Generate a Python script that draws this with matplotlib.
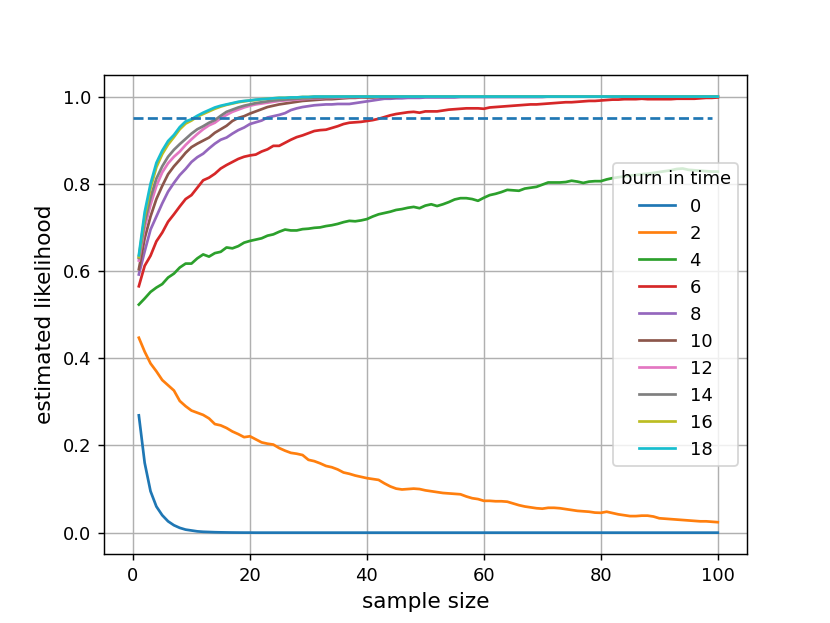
import matplotlib
matplotlib.use('Agg')
import matplotlib.pyplot as plt

sample_sizes = list(range(1, 101))
burn_in_times = [0, 2, 4, 6, 8, 10, 12, 14, 16, 18]
threshold = 0.95
threshold_span = (0, 99)

likelihood_b0 = [
    0.269, 0.160, 0.095, 0.060, 0.040, 0.026, 0.017, 0.011, 0.007, 0.005,
    0.003, 0.002, 0.0015, 0.001, 0.0007, 0.0005, 0.0003, 0.0002, 0.0001, 0.0001,
    0.0, 0.0, 0.0, 0.0, 0.0, 0.0, 0.0, 0.0, 0.0, 0.0,
    0.0, 0.0, 0.0, 0.0, 0.0, 0.0, 0.0, 0.0, 0.0, 0.0,
    0.0, 0.0, 0.0, 0.0, 0.0, 0.0, 0.0, 0.0, 0.0, 0.0,
    0.0, 0.0, 0.0, 0.0, 0.0, 0.0, 0.0, 0.0, 0.0, 0.0,
    0.0, 0.0, 0.0, 0.0, 0.0, 0.0, 0.0, 0.0, 0.0, 0.0,
    0.0, 0.0, 0.0, 0.0, 0.0, 0.0, 0.0, 0.0, 0.0, 0.0,
    0.0, 0.0, 0.0, 0.0, 0.0, 0.0, 0.0, 0.0, 0.0, 0.0,
    0.0, 0.0, 0.0, 0.0, 0.0, 0.0, 0.0, 0.0, 0.0, 0.0,
]
likelihood_b2 = [
    0.447, 0.415, 0.388, 0.370, 0.350, 0.338, 0.326, 0.302, 0.290, 0.280,
    0.275, 0.270, 0.262, 0.249, 0.246, 0.240, 0.232, 0.226, 0.219, 0.221,
    0.214, 0.207, 0.204, 0.202, 0.194, 0.188, 0.183, 0.181, 0.178, 0.167,
    0.164, 0.159, 0.153, 0.150, 0.145, 0.138, 0.135, 0.131, 0.128, 0.125,
    0.123, 0.121, 0.113, 0.106, 0.101, 0.099, 0.100, 0.101, 0.100, 0.097,
    0.095, 0.093, 0.091, 0.090, 0.089, 0.088, 0.083, 0.079, 0.077, 0.073,
    0.073, 0.072, 0.072, 0.071, 0.067, 0.063, 0.060, 0.058, 0.056, 0.055,
    0.057, 0.057, 0.056, 0.054, 0.052, 0.050, 0.049, 0.048, 0.046, 0.0455,
    0.048, 0.045, 0.042, 0.040, 0.038, 0.038, 0.039, 0.039, 0.037, 0.033,
    0.032, 0.031, 0.030, 0.029, 0.028, 0.027, 0.026, 0.026, 0.025, 0.024,
]
likelihood_b4 = [
    0.523, 0.537, 0.552, 0.562, 0.570, 0.585, 0.594, 0.608, 0.617, 0.617,
    0.629, 0.638, 0.633, 0.641, 0.644, 0.654, 0.652, 0.657, 0.665, 0.669,
    0.672, 0.675, 0.681, 0.684, 0.690, 0.695, 0.693, 0.693, 0.696, 0.697,
    0.699, 0.700, 0.703, 0.705, 0.708, 0.712, 0.715, 0.714, 0.716, 0.719,
    0.725, 0.730, 0.733, 0.736, 0.740, 0.742, 0.745, 0.747, 0.744, 0.750,
    0.753, 0.749, 0.753, 0.758, 0.764, 0.767, 0.767, 0.765, 0.761, 0.768,
    0.774, 0.777, 0.781, 0.786, 0.785, 0.784, 0.789, 0.791, 0.793, 0.798,
    0.803, 0.803, 0.803, 0.804, 0.807, 0.805, 0.802, 0.805, 0.806, 0.806,
    0.810, 0.813, 0.815, 0.817, 0.819, 0.820, 0.822, 0.823, 0.825, 0.827,
    0.829, 0.831, 0.834, 0.835, 0.832, 0.831, 0.830, 0.829, 0.828, 0.828,
]
likelihood_b6 = [
    0.565, 0.612, 0.635, 0.668, 0.688, 0.713, 0.730, 0.748, 0.765, 0.774,
    0.791, 0.808, 0.814, 0.823, 0.835, 0.843, 0.850, 0.857, 0.862, 0.865,
    0.867, 0.874, 0.879, 0.887, 0.887, 0.894, 0.901, 0.907, 0.911, 0.916,
    0.921, 0.923, 0.924, 0.928, 0.932, 0.937, 0.940, 0.941, 0.942, 0.944,
    0.946, 0.949, 0.953, 0.957, 0.960, 0.962, 0.964, 0.965, 0.963, 0.966,
    0.966, 0.966, 0.968, 0.970, 0.971, 0.972, 0.973, 0.973, 0.973, 0.972,
    0.975, 0.976, 0.977, 0.978, 0.979, 0.980, 0.981, 0.982, 0.982, 0.983,
    0.984, 0.985, 0.986, 0.987, 0.987, 0.988, 0.989, 0.990, 0.990, 0.991,
    0.992, 0.993, 0.993, 0.994, 0.994, 0.994, 0.995, 0.994, 0.994, 0.994,
    0.994, 0.994, 0.995, 0.995, 0.995, 0.995, 0.996, 0.997, 0.997, 0.998,
]
likelihood_b8 = [
    0.592, 0.645, 0.695, 0.725, 0.755, 0.782, 0.802, 0.820, 0.834, 0.850,
    0.861, 0.869, 0.881, 0.892, 0.901, 0.906, 0.915, 0.923, 0.929, 0.937,
    0.941, 0.945, 0.952, 0.955, 0.958, 0.962, 0.969, 0.973, 0.976, 0.978,
    0.980, 0.981, 0.982, 0.982, 0.983, 0.983, 0.983, 0.985, 0.987, 0.989,
    0.991, 0.993, 0.995, 0.995, 0.996, 0.996, 0.997, 0.997, 0.997, 0.998,
    0.998, 0.998, 0.998, 0.998, 0.998, 0.999, 0.999, 0.999, 0.999, 0.999,
    0.999, 0.999, 0.999, 0.999, 0.999, 0.999, 0.999, 0.999, 0.999, 0.999,
    1.0, 1.0, 1.0, 1.0, 1.0, 1.0, 1.0, 1.0, 1.0, 1.0,
    1.0, 1.0, 1.0, 1.0, 1.0, 1.0, 1.0, 1.0, 1.0, 1.0,
    1.0, 1.0, 1.0, 1.0, 1.0, 1.0, 1.0, 1.0, 1.0, 1.0,
]
likelihood_b10 = [
    0.604, 0.675, 0.725, 0.765, 0.795, 0.822, 0.840, 0.855, 0.871, 0.884,
    0.892, 0.899, 0.906, 0.917, 0.925, 0.933, 0.944, 0.951, 0.955, 0.961,
    0.966, 0.971, 0.976, 0.979, 0.982, 0.984, 0.986, 0.988, 0.990, 0.991,
    0.992, 0.993, 0.994, 0.994, 0.995, 0.996, 0.997, 0.997, 0.998, 0.998,
    0.998, 0.999, 0.999, 0.999, 0.999, 1.0, 1.0, 1.0, 1.0, 1.0,
    1.0, 1.0, 1.0, 1.0, 1.0, 1.0, 1.0, 1.0, 1.0, 1.0,
    1.0, 1.0, 1.0, 1.0, 1.0, 1.0, 1.0, 1.0, 1.0, 1.0,
    1.0, 1.0, 1.0, 1.0, 1.0, 1.0, 1.0, 1.0, 1.0, 1.0,
    1.0, 1.0, 1.0, 1.0, 1.0, 1.0, 1.0, 1.0, 1.0, 1.0,
    1.0, 1.0, 1.0, 1.0, 1.0, 1.0, 1.0, 1.0, 1.0, 1.0,
]
likelihood_b12 = [
    0.624, 0.700, 0.752, 0.795, 0.826, 0.847, 0.862, 0.874, 0.889, 0.902,
    0.914, 0.925, 0.934, 0.940, 0.950, 0.958, 0.965, 0.970, 0.975, 0.979,
    0.982, 0.984, 0.986, 0.988, 0.990, 0.991, 0.992, 0.993, 0.994, 0.995,
    0.996, 0.996, 0.997, 0.997, 0.998, 0.998, 0.999, 0.999, 0.999, 1.0,
    1.0, 1.0, 1.0, 1.0, 1.0, 1.0, 1.0, 1.0, 1.0, 1.0,
    1.0, 1.0, 1.0, 1.0, 1.0, 1.0, 1.0, 1.0, 1.0, 1.0,
    1.0, 1.0, 1.0, 1.0, 1.0, 1.0, 1.0, 1.0, 1.0, 1.0,
    1.0, 1.0, 1.0, 1.0, 1.0, 1.0, 1.0, 1.0, 1.0, 1.0,
    1.0, 1.0, 1.0, 1.0, 1.0, 1.0, 1.0, 1.0, 1.0, 1.0,
    1.0, 1.0, 1.0, 1.0, 1.0, 1.0, 1.0, 1.0, 1.0, 1.0,
]
likelihood_b14 = [
    0.630, 0.712, 0.768, 0.812, 0.840, 0.862, 0.878, 0.891, 0.903, 0.915,
    0.925, 0.932, 0.940, 0.946, 0.956, 0.965, 0.970, 0.975, 0.979, 0.982,
    0.985, 0.987, 0.989, 0.991, 0.992, 0.993, 0.994, 0.995, 0.996, 0.996,
    0.997, 0.997, 0.998, 0.998, 0.999, 0.999, 0.999, 1.0, 1.0, 1.0,
    1.0, 1.0, 1.0, 1.0, 1.0, 1.0, 1.0, 1.0, 1.0, 1.0,
    1.0, 1.0, 1.0, 1.0, 1.0, 1.0, 1.0, 1.0, 1.0, 1.0,
    1.0, 1.0, 1.0, 1.0, 1.0, 1.0, 1.0, 1.0, 1.0, 1.0,
    1.0, 1.0, 1.0, 1.0, 1.0, 1.0, 1.0, 1.0, 1.0, 1.0,
    1.0, 1.0, 1.0, 1.0, 1.0, 1.0, 1.0, 1.0, 1.0, 1.0,
    1.0, 1.0, 1.0, 1.0, 1.0, 1.0, 1.0, 1.0, 1.0, 1.0,
]
likelihood_b16 = [
    0.632, 0.725, 0.790, 0.838, 0.868, 0.890, 0.907, 0.925, 0.938, 0.945,
    0.954, 0.960, 0.966, 0.972, 0.977, 0.981, 0.984, 0.987, 0.989, 0.991,
    0.992, 0.994, 0.995, 0.996, 0.997, 0.997, 0.998, 0.998, 0.999, 0.999,
    1.0, 1.0, 1.0, 1.0, 1.0, 1.0, 1.0, 1.0, 1.0, 1.0,
    1.0, 1.0, 1.0, 1.0, 1.0, 1.0, 1.0, 1.0, 1.0, 1.0,
    1.0, 1.0, 1.0, 1.0, 1.0, 1.0, 1.0, 1.0, 1.0, 1.0,
    1.0, 1.0, 1.0, 1.0, 1.0, 1.0, 1.0, 1.0, 1.0, 1.0,
    1.0, 1.0, 1.0, 1.0, 1.0, 1.0, 1.0, 1.0, 1.0, 1.0,
    1.0, 1.0, 1.0, 1.0, 1.0, 1.0, 1.0, 1.0, 1.0, 1.0,
    1.0, 1.0, 1.0, 1.0, 1.0, 1.0, 1.0, 1.0, 1.0, 1.0,
]
likelihood_b18 = [
    0.636, 0.735, 0.800, 0.848, 0.876, 0.898, 0.912, 0.930, 0.943, 0.948,
    0.956, 0.963, 0.969, 0.975, 0.979, 0.982, 0.985, 0.988, 0.990, 0.991,
    0.993, 0.994, 0.995, 0.996, 0.997, 0.997, 0.998, 0.998, 0.999, 0.999,
    1.0, 1.0, 1.0, 1.0, 1.0, 1.0, 1.0, 1.0, 1.0, 1.0,
    1.0, 1.0, 1.0, 1.0, 1.0, 1.0, 1.0, 1.0, 1.0, 1.0,
    1.0, 1.0, 1.0, 1.0, 1.0, 1.0, 1.0, 1.0, 1.0, 1.0,
    1.0, 1.0, 1.0, 1.0, 1.0, 1.0, 1.0, 1.0, 1.0, 1.0,
    1.0, 1.0, 1.0, 1.0, 1.0, 1.0, 1.0, 1.0, 1.0, 1.0,
    1.0, 1.0, 1.0, 1.0, 1.0, 1.0, 1.0, 1.0, 1.0, 1.0,
    1.0, 1.0, 1.0, 1.0, 1.0, 1.0, 1.0, 1.0, 1.0, 1.0,
]

curves = [likelihood_b0, likelihood_b2, likelihood_b4, likelihood_b6, likelihood_b8,
          likelihood_b10, likelihood_b12, likelihood_b14, likelihood_b16, likelihood_b18]

fig, ax = plt.subplots(figsize=(830 / 130, 623 / 130), dpi=130)

for burn, values in zip(burn_in_times, curves):
    ax.plot(sample_sizes, values, label=str(burn))

ax.hlines(threshold, threshold_span[0], threshold_span[1], colors='C0',
          linestyles='--', linewidth=1.5)

ax.grid(True)
ax.set_axisbelow(True)
ax.set_xlabel('sample size', fontsize=12)
ax.set_ylabel('estimated likelihood', fontsize=12)
ax.legend(title='burn in time', loc='center right')

plt.savefig('out.png', dpi=130)
plt.close()
